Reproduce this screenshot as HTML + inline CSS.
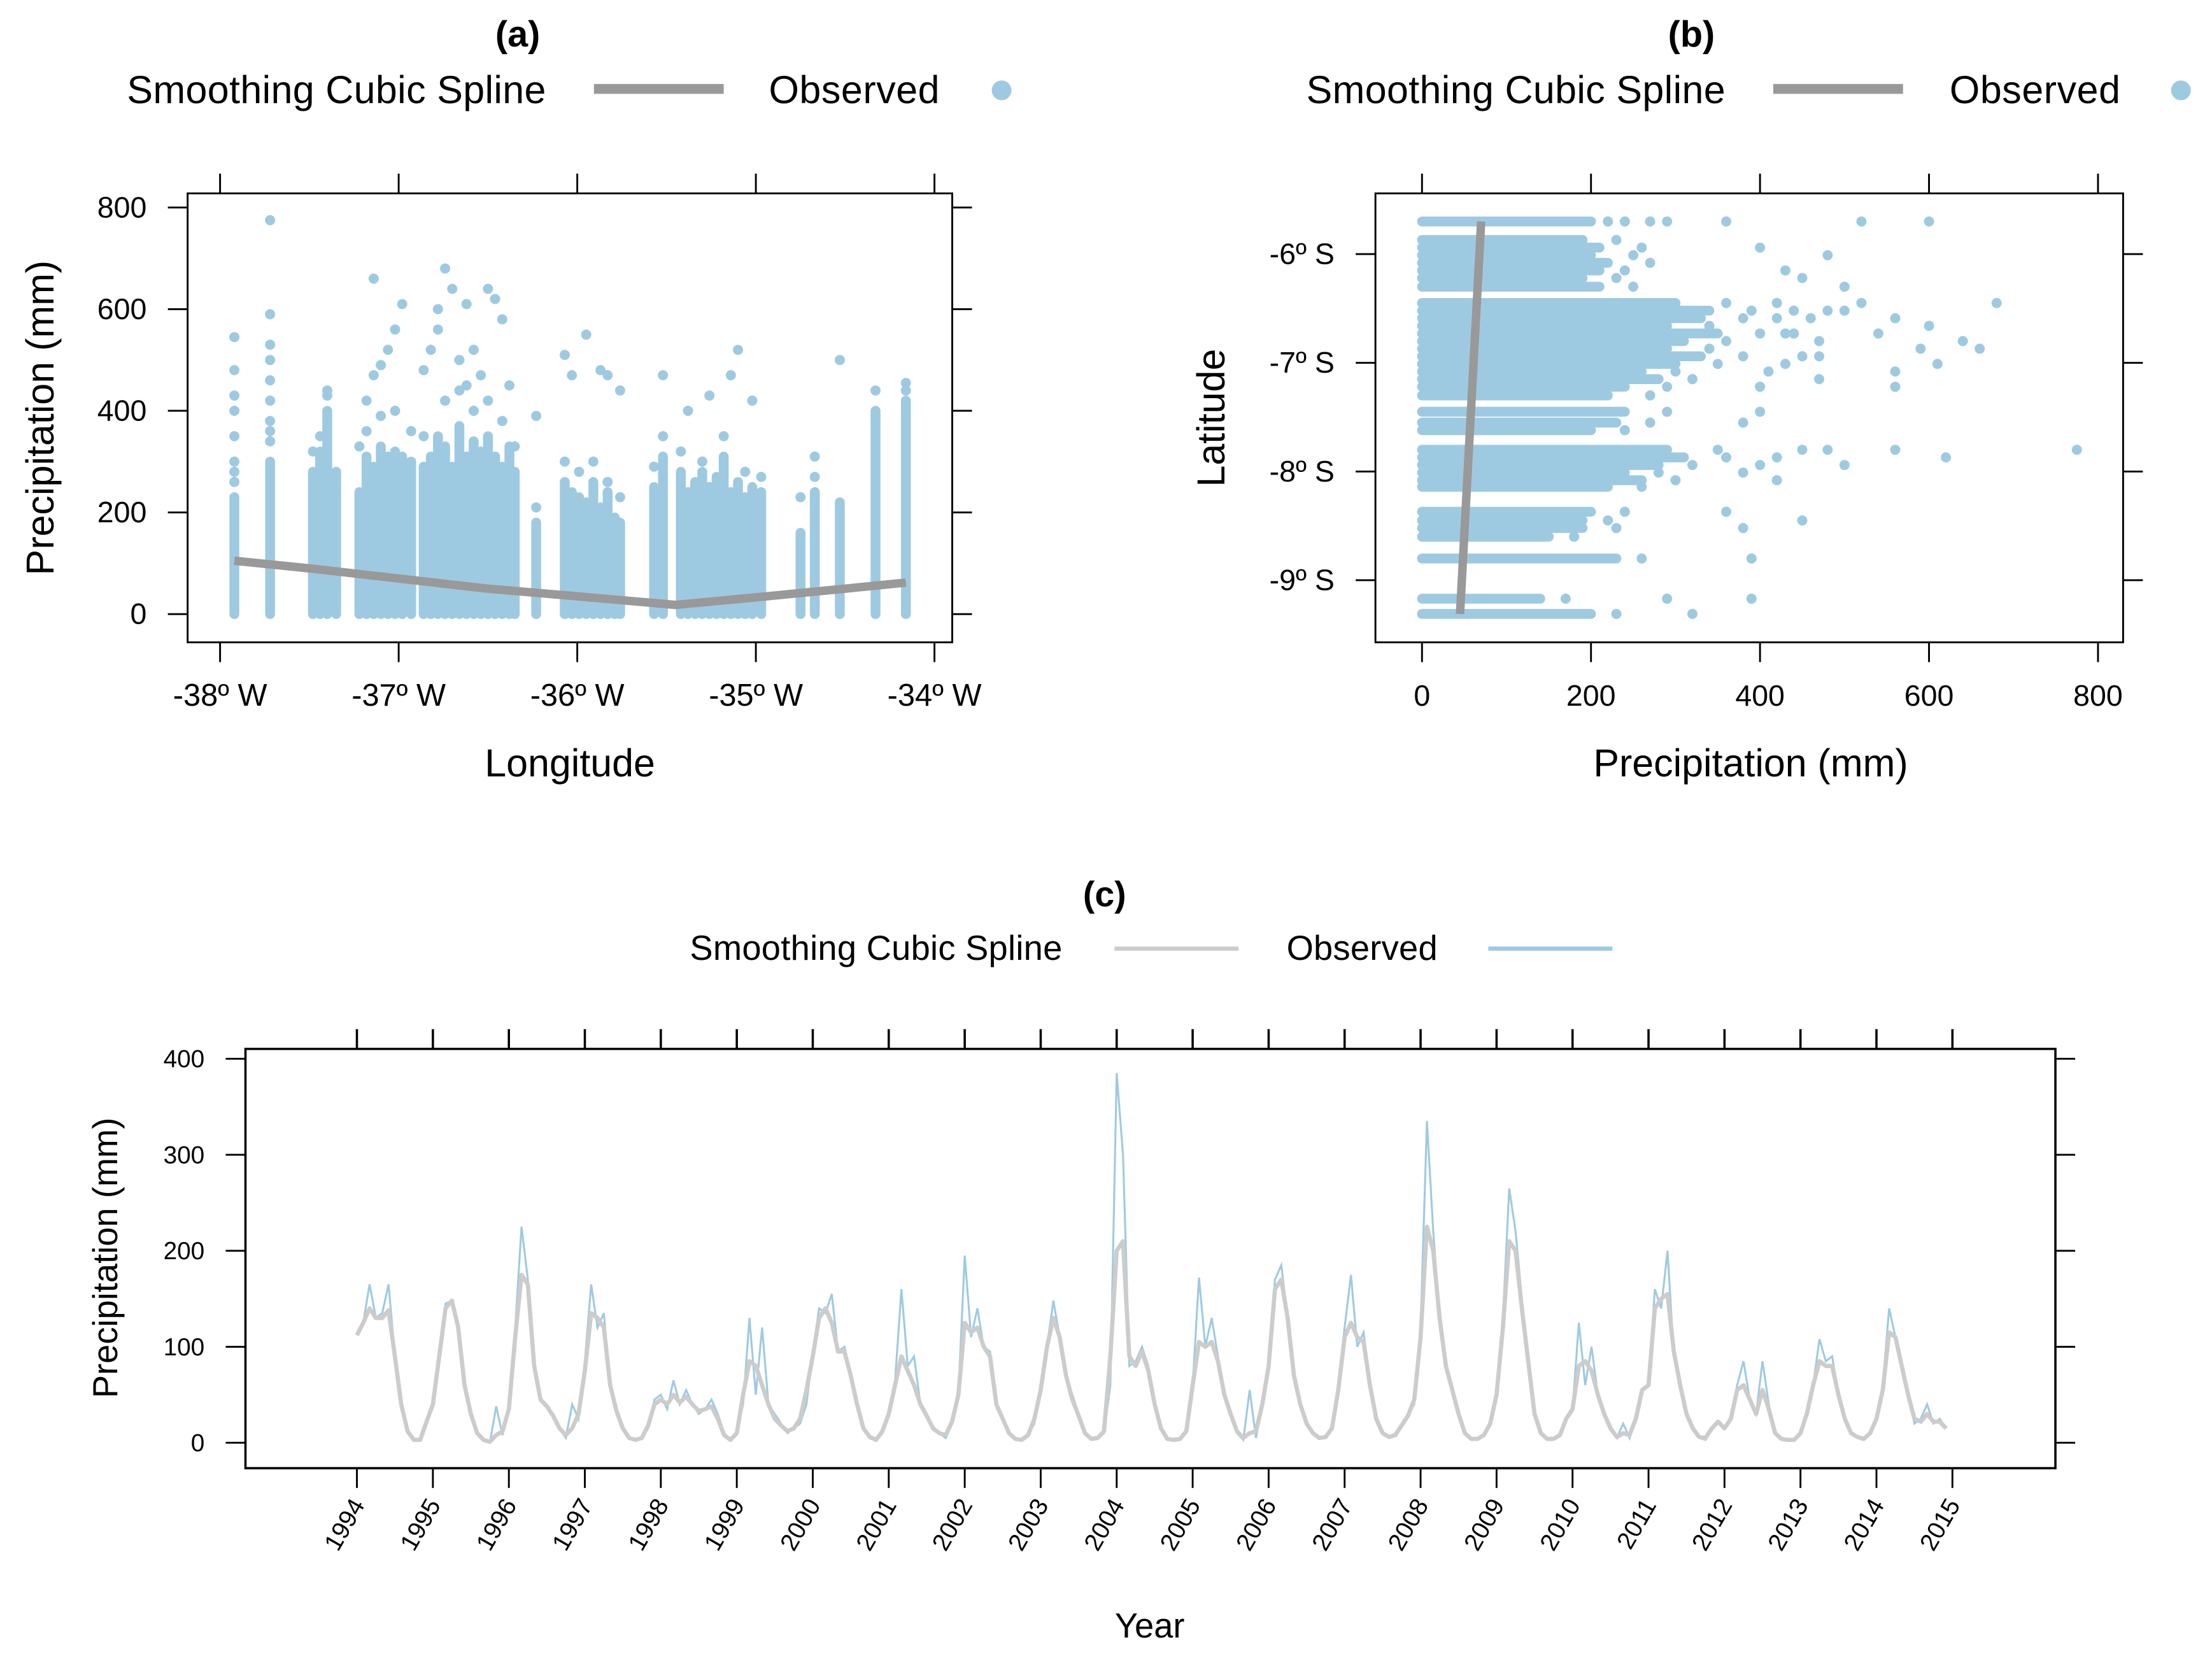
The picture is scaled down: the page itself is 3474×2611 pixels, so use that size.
<!DOCTYPE html>
<html><head><meta charset="utf-8"><style>
html,body{margin:0;padding:0;background:#fff}
svg{display:block;font-family:"Liberation Sans",Arial,sans-serif}
</style></head><body>
<svg id="fig" width="3474" height="2611" viewBox="0 0 1568 1178" preserveAspectRatio="none" xmlns="http://www.w3.org/2000/svg">
<rect width="1568" height="1178" fill="#fff"/>
<g>
<text x="367" y="33" font-size="26" font-weight="bold" text-anchor="middle">(a)</text>
<text x="90" y="73" font-size="27.5" textLength="297">Smoothing Cubic Spline</text>
<line x1="421" y1="63" x2="513" y2="63" stroke="#999" stroke-width="7"/>
<text x="545" y="73" font-size="27.5" textLength="121">Observed</text>
<circle cx="710" cy="64" r="7" fill="#9ecae1"/>
</g>
<g>
<text x="1199" y="33" font-size="26" font-weight="bold" text-anchor="middle">(b)</text>
<text x="926" y="73" font-size="27.5" textLength="297">Smoothing Cubic Spline</text>
<line x1="1257" y1="63" x2="1349" y2="63" stroke="#999" stroke-width="7"/>
<text x="1382" y="73" font-size="27.5" textLength="121">Observed</text>
<circle cx="1546" cy="64" r="7" fill="#9ecae1"/>
</g>
<g>
<text x="783" y="642" font-size="25" font-weight="bold" text-anchor="middle">(c)</text>
<text x="489" y="680" font-size="24.5" textLength="264">Smoothing Cubic Spline</text>
<line x1="790" y1="672" x2="878" y2="672" stroke="#ccc" stroke-width="3"/>
<text x="912" y="680" font-size="24.5" textLength="107">Observed</text>
<line x1="1055" y1="672" x2="1143" y2="672" stroke="#9ecae1" stroke-width="3"/>
</g>
<g id="pa"></g>
<g id="pb"></g>
<g id="pc"></g>
</svg>
<script>
// ---------- Panel (a) data ----------
const aLon = [-37.92,-37.72,-37.48,-37.44,-37.40,-37.35,-37.22,-37.18,-37.14,-37.10,-37.06,-37.02,-36.98,-36.93,-36.86,-36.82,-36.78,-36.74,-36.70,-36.66,-36.62,-36.58,-36.54,-36.50,-36.46,-36.42,-36.38,-36.35,-36.23,-36.07,-36.03,-35.99,-35.95,-35.91,-35.87,-35.83,-35.79,-35.76,-35.57,-35.52,-35.42,-35.38,-35.34,-35.30,-35.26,-35.22,-35.18,-35.14,-35.10,-35.06,-35.02,-34.97,-34.75,-34.67,-34.53,-34.33,-34.16];
const aTop = [230,300,280,320,400,280,240,310,290,330,310,320,310,300,290,310,350,330,290,370,310,340,320,350,310,290,330,280,180,260,240,230,220,260,210,240,190,180,250,310,280,240,260,280,250,270,310,240,260,230,250,240,160,240,220,400,420];
const aOutLon = [-37.92,-37.92,-37.92,-37.92,-37.92,-37.92,-37.72,-37.72,-37.72,-37.72,-37.72,-37.72,-37.72,-37.40,-37.18,-37.14,-37.10,-37.06,-37.14,-37.02,-36.98,-36.86,-36.82,-36.78,-36.74,-36.70,-36.66,-36.62,-36.58,-36.54,-36.50,-36.46,-36.42,-36.38,-36.78,-36.62,-36.23,-36.07,-36.03,-35.95,-35.87,-35.83,-35.76,-35.52,-35.38,-35.26,-35.14,-35.10,-35.02,-34.53,-34.33,-34.67,
-37.92,-37.92,-37.72,-37.72,-37.48,-37.44,-37.40,-37.22,-37.18,-37.10,-37.02,-36.93,-36.86,-36.74,-36.66,-36.58,-36.50,-36.42,-36.35,-36.23,-36.07,-35.99,-35.91,-35.83,-35.76,-35.57,-35.52,-35.42,-35.30,-35.18,-35.06,-34.97,-34.75,-34.67,-34.33,-34.16,-34.16];
const aOutVal = [300,350,400,430,480,545,380,420,460,500,530,590,775,430,420,470,490,520,660,560,610,480,520,600,680,640,500,450,520,470,640,620,580,450,560,610,390,510,470,550,480,470,440,470,400,430,470,520,420,500,390,310,
260,280,340,360,320,350,440,330,360,390,400,360,350,420,440,400,420,380,330,210,300,280,300,260,230,290,350,320,300,350,280,270,230,270,440,440,455];
const aSplLon = [-37.92,-37.5,-37.0,-36.5,-36.0,-35.45,-35.0,-34.5,-34.16];
const aSplVal = [105,90,70,50,35,18,33,50,62];
const aXTicks = [-38,-37,-36,-35,-34];
const aXLabels = ["-38º W","-37º W","-36º W","-35º W","-34º W"];
const aYTicks = [0,200,400,600,800];

// ---------- Panel (b) data ----------
const bLat = [-5.70,-5.87,-5.94,-6.01,-6.08,-6.15,-6.22,-6.30,-6.45,-6.52,-6.59,-6.66,-6.73,-6.80,-6.87,-6.94,-7.01,-7.08,-7.15,-7.22,-7.30,-7.45,-7.55,-7.62,-7.80,-7.87,-7.94,-8.01,-8.08,-8.14,-8.37,-8.45,-8.52,-8.60,-8.80,-9.17,-9.31];
const bTop = [200,190,210,200,220,210,190,210,300,340,330,290,350,310,290,330,300,260,280,240,220,240,230,200,290,310,280,240,260,220,200,190,190,150,230,140,200];
const bOutLat = [-5.70,-5.70,-5.70,-5.70,-5.94,-6.01,-6.15,-6.30,-6.22,-6.45,-6.45,-6.52,-6.59,-6.66,-6.73,-6.80,-6.87,-6.94,-7.01,-7.08,-7.15,-6.59,-6.73,-6.87,-7.22,-7.45,-7.55,-7.80,-7.80,-7.87,-7.94,-8.08,-7.80,-8.37,-8.45,-8.52,-8.80,-9.17,-9.17,-9.31,-6.52,
-5.70,-5.70,-5.70,-5.87,-5.94,-6.01,-6.08,-6.15,-6.22,-6.30,-6.45,-6.52,-6.59,-6.66,-6.73,-6.80,-6.87,-6.94,-7.01,-7.08,-7.15,-7.22,-7.30,-7.45,-7.55,-7.62,-7.80,-7.87,-7.94,-8.01,-8.08,-8.14,-8.37,-8.45,-8.52,-8.60,-8.80,-9.17,-9.31,
-6.45,-6.59,-6.73,-6.94,-7.08,-7.22,-7.87,-8.01,-6.52,-6.80,-7.01,-7.80,-7.94];
const bOutVal = [290,360,520,600,400,480,430,500,450,520,680,480,560,600,540,640,590,470,610,560,470,420,440,660,560,400,380,480,560,620,500,420,775,360,450,380,390,290,390,320,500,
220,240,270,230,260,250,270,240,230,250,360,390,380,340,400,360,340,380,350,300,320,290,270,290,270,240,350,360,320,280,300,260,240,220,230,180,260,170,230,
420,460,430,450,410,400,420,380,440,470,430,450,400];
const bSplLat = [-5.70,-9.31];
const bSplVal = [70,45];
const bXTicks = [0,200,400,600,800];
const bYTicks = [-6,-7,-8,-9];
const bYLabels = ["-6º S","-7º S","-8º S","-9º S"];

// ---------- Panel (c) data (monthly, Jan 1994 .. Dec 2014) ----------
const cObserved = [
115,125,165,130,135,165,90,40,12,3,2,25,
40,90,145,148,120,60,30,10,2,0,38,8,
40,120,225,170,80,45,38,30,15,5,40,25,
85,165,120,135,60,35,15,5,2,5,15,45,
50,35,65,40,55,40,30,35,45,30,10,3,
10,40,130,50,120,40,30,20,10,15,20,40,
95,140,135,155,95,100,70,40,15,5,2,10,
30,65,160,80,90,40,30,15,10,5,20,50,
195,110,140,100,95,40,25,10,3,2,8,20,
60,100,148,110,70,50,30,10,3,5,10,60,
385,300,80,85,100,80,40,15,3,2,3,10,
60,172,100,130,90,50,30,10,3,55,5,40,
80,170,185,130,70,40,20,10,5,5,15,60,
120,175,100,115,60,25,10,5,8,20,30,40,
120,335,220,130,80,60,30,10,3,3,8,20,
50,130,265,220,150,90,30,10,3,3,8,25,
35,125,60,100,50,30,15,5,20,5,30,55,
60,160,140,200,90,60,30,15,5,3,15,20,
15,25,60,85,45,30,85,40,10,3,2,3,
10,30,60,108,85,90,50,25,10,5,3,10,
25,60,140,110,80,50,20,25,40,20,25,15];
const cSmooth = [
112,125,140,130,130,138,90,40,12,3,3,22,
40,90,140,148,120,60,30,10,3,1,8,12,
35,110,175,165,80,45,38,28,15,8,15,30,
75,135,130,120,60,33,15,5,3,5,18,40,
45,40,50,42,48,40,33,35,38,25,8,3,
10,50,85,80,60,40,25,18,12,15,25,55,
90,130,140,125,95,95,70,40,15,6,3,12,
30,60,90,75,60,40,28,15,10,8,22,50,
125,115,120,100,90,40,25,10,4,3,8,25,
55,100,130,110,70,45,28,10,4,5,12,90,
200,210,90,80,95,75,40,15,4,3,4,12,
60,105,100,105,85,50,30,12,5,10,12,40,
80,160,170,130,70,40,20,10,5,6,15,55,
110,125,110,105,60,25,10,6,8,18,28,45,
110,225,200,130,80,55,30,10,4,4,8,20,
50,120,210,200,140,85,30,10,4,4,8,25,
35,80,85,75,50,30,15,6,10,8,25,55,
60,140,150,155,95,60,30,15,6,5,15,22,
15,25,55,60,45,30,55,35,10,4,3,3,
10,30,60,85,80,80,50,25,10,6,4,10,
25,55,115,110,80,50,25,22,30,22,22,15];
const cStartYear = 1994;
const cYearTicks = [1994,1995,1996,1997,1998,1999,2000,2001,2002,2003,2004,2005,2006,2007,2008,2009,2010,2011,2012,2013,2014,2015];
const cYTicks = [0,100,200,300,400];

const NS = "http://www.w3.org/2000/svg";
function mk(tag, parent, attrs) {
  const e = document.createElementNS(NS, tag);
  for (const k in attrs) e.setAttribute(k, attrs[k]);
  parent.appendChild(e);
  return e;
}
const BLUE = "#9ecae1";

// ===== Panel A =====
(function(){
  const g = document.getElementById('pa');
  const xS = v => 156 + (v + 38) * 126.6;
  const yS = v => 435 - v * 0.36;
  for (let i = 0; i < aLon.length; i++) {
    const l = mk('line', g, {x1: xS(aLon[i]), x2: xS(aLon[i]), y1: yS(0), y2: yS(aTop[i]), stroke: BLUE, 'stroke-width': 7, 'stroke-linecap': 'round'});
    
    
  }
  for (let i = 0; i < aOutLon.length; i++) {
    const c = mk('circle', g, {cx: xS(aOutLon[i]), cy: yS(aOutVal[i]), r: 3.6, fill: BLUE});
    
    
  }
  const pts = aSplLon.map((v, i) => xS(v) + ',' + yS(aSplVal[i])).join(' ');
  const sp = mk('polyline', g, {points: pts, fill: 'none', stroke: '#999', 'stroke-width': 6, 'stroke-linejoin': 'round'});
  
  
  const box = mk('rect', g, {x: 133, y: 137, width: 542, height: 318, fill: 'none', stroke: '#000', 'stroke-width': 1.3});
  
  
  aXTicks.forEach((t, i) => {
    const x = xS(t);
    mk('line', g, {x1: x, x2: x, y1: 123, y2: 137, stroke: '#000', 'stroke-width': 1.3});
    mk('line', g, {x1: x, x2: x, y1: 455, y2: 469, stroke: '#000', 'stroke-width': 1.3});
    const tx = mk('text', g, {x: x, y: 500, 'font-size': 22, 'text-anchor': 'middle'});
    tx.textContent = aXLabels[i];
    
    
  });
  aYTicks.forEach(t => {
    const y = yS(t);
    mk('line', g, {x1: 119, x2: 133, y1: y, y2: y, stroke: '#000', 'stroke-width': 1.3});
    mk('line', g, {x1: 675, x2: 689, y1: y, y2: y, stroke: '#000', 'stroke-width': 1.3});
    const tx = mk('text', g, {x: 104, y: y + 7, 'font-size': 21, 'text-anchor': 'end'});
    tx.textContent = t;
    
    
  });
  const xl = mk('text', g, {x: 404, y: 550, 'font-size': 27.5, 'text-anchor': 'middle'});
  xl.textContent = 'Longitude';
  
  
  const yl = mk('text', g, {x: 0, y: 0, 'font-size': 27.5, 'text-anchor': 'middle', transform: 'translate(38,296) rotate(-90)'});
  yl.textContent = 'Precipitation (mm)';
  
  
})();

// ===== Panel B =====
(function(){
  const g = document.getElementById('pb');
  const xS = v => 1008 + v * 0.599;
  const yS = v => 180 + (-6 - v) * 77;
  for (let i = 0; i < bLat.length; i++) {
    const l = mk('line', g, {x1: xS(0), x2: xS(bTop[i]), y1: yS(bLat[i]), y2: yS(bLat[i]), stroke: BLUE, 'stroke-width': 7, 'stroke-linecap': 'round'});
    
    
  }
  for (let i = 0; i < bOutLat.length; i++) {
    const c = mk('circle', g, {cx: xS(bOutVal[i]), cy: yS(bOutLat[i]), r: 3.6, fill: BLUE});
    
    
  }
  const pts = bSplLat.map((v, i) => xS(bSplVal[i]) + ',' + yS(v)).join(' ');
  const sp = mk('polyline', g, {points: pts, fill: 'none', stroke: '#999', 'stroke-width': 6});
  
  
  const box = mk('rect', g, {x: 975, y: 137, width: 530, height: 318, fill: 'none', stroke: '#000', 'stroke-width': 1.3});
  
  
  bXTicks.forEach(t => {
    const x = xS(t);
    mk('line', g, {x1: x, x2: x, y1: 123, y2: 137, stroke: '#000', 'stroke-width': 1.3});
    mk('line', g, {x1: x, x2: x, y1: 455, y2: 469, stroke: '#000', 'stroke-width': 1.3});
    const tx = mk('text', g, {x: x, y: 500, 'font-size': 21, 'text-anchor': 'middle'});
    tx.textContent = t;
    
    
  });
  bYTicks.forEach((t, i) => {
    const y = yS(t);
    mk('line', g, {x1: 961, x2: 975, y1: y, y2: y, stroke: '#000', 'stroke-width': 1.3});
    mk('line', g, {x1: 1505, x2: 1519, y1: y, y2: y, stroke: '#000', 'stroke-width': 1.3});
    const tx = mk('text', g, {x: 946, y: y + 7, 'font-size': 21, 'text-anchor': 'end'});
    tx.textContent = bYLabels[i];
    
    
  });
  const xl = mk('text', g, {x: 1241, y: 550, 'font-size': 27.5, 'text-anchor': 'middle'});
  xl.textContent = 'Precipitation (mm)';
  
  
  const yl = mk('text', g, {x: 0, y: 0, 'font-size': 27.5, 'text-anchor': 'middle', transform: 'translate(868,296) rotate(-90)'});
  yl.textContent = 'Latitude';
  
  
})();

// ===== Panel C =====
(function(){
  const g = document.getElementById('pc');
  const xS = yr => 253 + (yr - 1994) * 53.857;
  const yS = v => 1022 - v * 0.68;
  const box = mk('rect', g, {x: 174, y: 743, width: 1283, height: 297, fill: 'none', stroke: '#000', 'stroke-width': 1.6});
  
  
  const ob = cObserved.map((v, i) => xS(cStartYear + i / 12) + ',' + yS(v)).join(' ');
  const o = mk('polyline', g, {points: ob, fill: 'none', stroke: BLUE, 'stroke-width': 1.4});
  
  
  const sm = cSmooth.map((v, i) => xS(cStartYear + i / 12) + ',' + yS(v)).join(' ');
  const s = mk('polyline', g, {points: sm, fill: 'none', stroke: '#cccccc', 'stroke-width': 3, 'stroke-linejoin': 'round'});
  
  
  cYearTicks.forEach(t => {
    const x = xS(t);
    mk('line', g, {x1: x, x2: x, y1: 729, y2: 743, stroke: '#000', 'stroke-width': 1.6});
    mk('line', g, {x1: x, x2: x, y1: 1040, y2: 1054, stroke: '#000', 'stroke-width': 1.3});
    const tx = mk('text', g, {x: 0, y: 0, 'font-size': 17.5, 'text-anchor': 'end', transform: 'translate(' + (x + 6) + ',1066) rotate(-60)'});
    tx.textContent = t;
    
    
  });
  cYTicks.forEach(t => {
    const y = yS(t);
    mk('line', g, {x1: 160, x2: 174, y1: y, y2: y, stroke: '#000', 'stroke-width': 1.3});
    mk('line', g, {x1: 1457, x2: 1471, y1: y, y2: y, stroke: '#000', 'stroke-width': 1.3});
    const tx = mk('text', g, {x: 145, y: y + 6, 'font-size': 17.5, 'text-anchor': 'end'});
    tx.textContent = t;
    
    
  });
  const xl = mk('text', g, {x: 815, y: 1160, 'font-size': 24.5, 'text-anchor': 'middle'});
  xl.textContent = 'Year';
  
  
  const yl = mk('text', g, {x: 0, y: 0, 'font-size': 24.5, 'text-anchor': 'middle', transform: 'translate(83,891) rotate(-90)'});
  yl.textContent = 'Precipitation (mm)';
  
  
})();
</script>
</body></html>
